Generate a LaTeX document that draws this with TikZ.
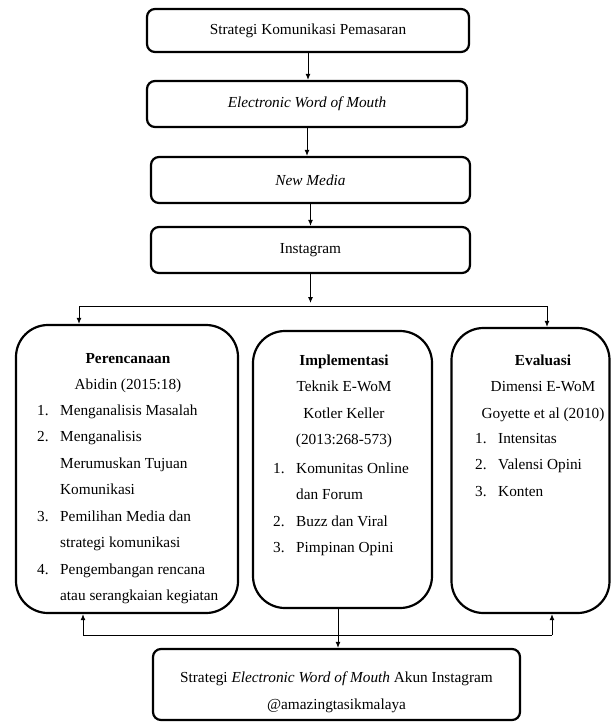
\documentclass[tikz,border=0pt]{standalone}
\usepackage{fontspec}
\setmainfont{Liberation Serif}
\usetikzlibrary{matrix, arrows.meta}

\tikzset{
  teks/.style={font=\fontsize{15.3}{26.5}\selectfont},
  kotak/.style={draw, line width=2.2pt, rounded corners=8pt, teks, align=center},
  panel/.style={draw, line width=2.2pt, rounded corners=32pt},
  garis/.style={line width=1pt},
  panah/.style={garis, -{Latex[length=6pt,width=5pt]}},
  judul/.style={matrix of nodes, teks,
    row sep={26.5pt,between origins},
    nodes={anchor=base, inner sep=0pt}},
  daftar/.style={matrix of nodes, teks,
    row sep={26.5pt,between origins},
    column sep={23pt,between origins},
    nodes={anchor=base west, inner sep=0pt}},
}

\begin{document}
\begin{tikzpicture}[x=1pt, y=-1pt]
  \useasboundingbox (0,0) rectangle (611,722);

  % alur atas
  \node[kotak, minimum width=322pt, minimum height=43pt] (kom) at (308,30.5) {Strategi Komunikasi Pemasaran};
  \node[kotak, minimum width=320pt, minimum height=46pt] (ewom) at (307,104) {\textit{Electronic Word of Mouth}};
  \node[kotak, minimum width=319pt, minimum height=46pt] (nm) at (310.5,180) {\textit{New Media}};
  \node[kotak, minimum width=319pt, minimum height=46pt] (ig) at (310.5,250) {Instagram};

  % tiga panel
  \node[panel, minimum width=222pt, minimum height=288pt] (plan) at (127,469) {};
  \node[panel, minimum width=179pt, minimum height=277pt] (impl) at (342.5,469.5) {};
  \node[panel, minimum width=158pt, minimum height=285pt] (eval) at (530.5,470.5) {};

  \matrix (planjudul) [judul, matrix anchor=planjudul-1-1.base] at (128,363) {
    \textbf{Perencanaan} \\
    Abidin (2015:18) \\
  };
  \matrix (planlist) [daftar, matrix anchor=planlist-1-1.base west] at (37,415) {
    1. & Menganalisis Masalah \\
    2. & Menganalisis \\
       & Merumuskan Tujuan \\
       & Komunikasi \\
    3. & Pemilihan Media dan \\
       & strategi komunikasi \\
    4. & Pengembangan rencana \\
       & atau serangkaian kegiatan \\
  };

  \matrix (impljudul) [judul, matrix anchor=impljudul-1-1.base] at (344,365) {
    \textbf{Implementasi} \\
    Teknik E-WoM \\
    Kotler Keller \\
    (2013:268-573) \\
  };
  \matrix (impllist) [daftar, matrix anchor=impllist-1-1.base west] at (273,473) {
    1. & Komunitas Online \\
       & dan Forum \\
    2. & Buzz dan Viral \\
    3. & Pimpinan Opini \\
  };

  \matrix (evaljudul) [judul, matrix anchor=evaljudul-1-1.base] at (543,365) {
    \textbf{Evaluasi} \\
    Dimensi E-WoM \\
    Goyette et al (2010) \\
  };
  \matrix (evallist) [daftar, matrix anchor=evallist-1-1.base west] at (475,443) {
    1. & Intensitas \\
    2. & Valensi Opini \\
    3. & Konten \\
  };

  % hasil
  \node[kotak, minimum width=367pt, minimum height=71pt] (hasil) at (336.5,684.5)
    {\rule{0pt}{26pt}Strategi \textit{Electronic Word of Mouth} Akun Instagram\\ @amazingtasikmalaya};

  % panah
  \coordinate (atas) at (310.5,306);
  \coordinate (kiriatas) at (79,306);
  \coordinate (kananatas) at (547,306);
  \coordinate (tengah) at (338,635);
  \coordinate (kiribawah) at (83,635);
  \coordinate (kananbawah) at (552,635);

  \draw[panah] (kom.south) -- (kom.south |- ewom.north);
  \draw[panah] (ewom.south) -- (ewom.south |- nm.north);
  \draw[panah] (nm.south) -- (nm.south |- ig.north);
  \draw[panah, shorten >=3pt] (ig.south) -- (atas);
  \draw[garis] (kiriatas) -- (kananatas);
  \draw[panah] (kiriatas) -- (kiriatas |- plan.north);
  \draw[panah] (kananatas) -- (kananatas |- eval.north);

  \draw[garis] (kiribawah) -- (kananbawah);
  \draw[panah] (kiribawah) -- (kiribawah |- plan.south);
  \draw[panah] (kananbawah) -- (kananbawah |- eval.south);
  \draw[panah] (tengah |- impl.south) -- (tengah |- hasil.north);
\end{tikzpicture}
\end{document}
